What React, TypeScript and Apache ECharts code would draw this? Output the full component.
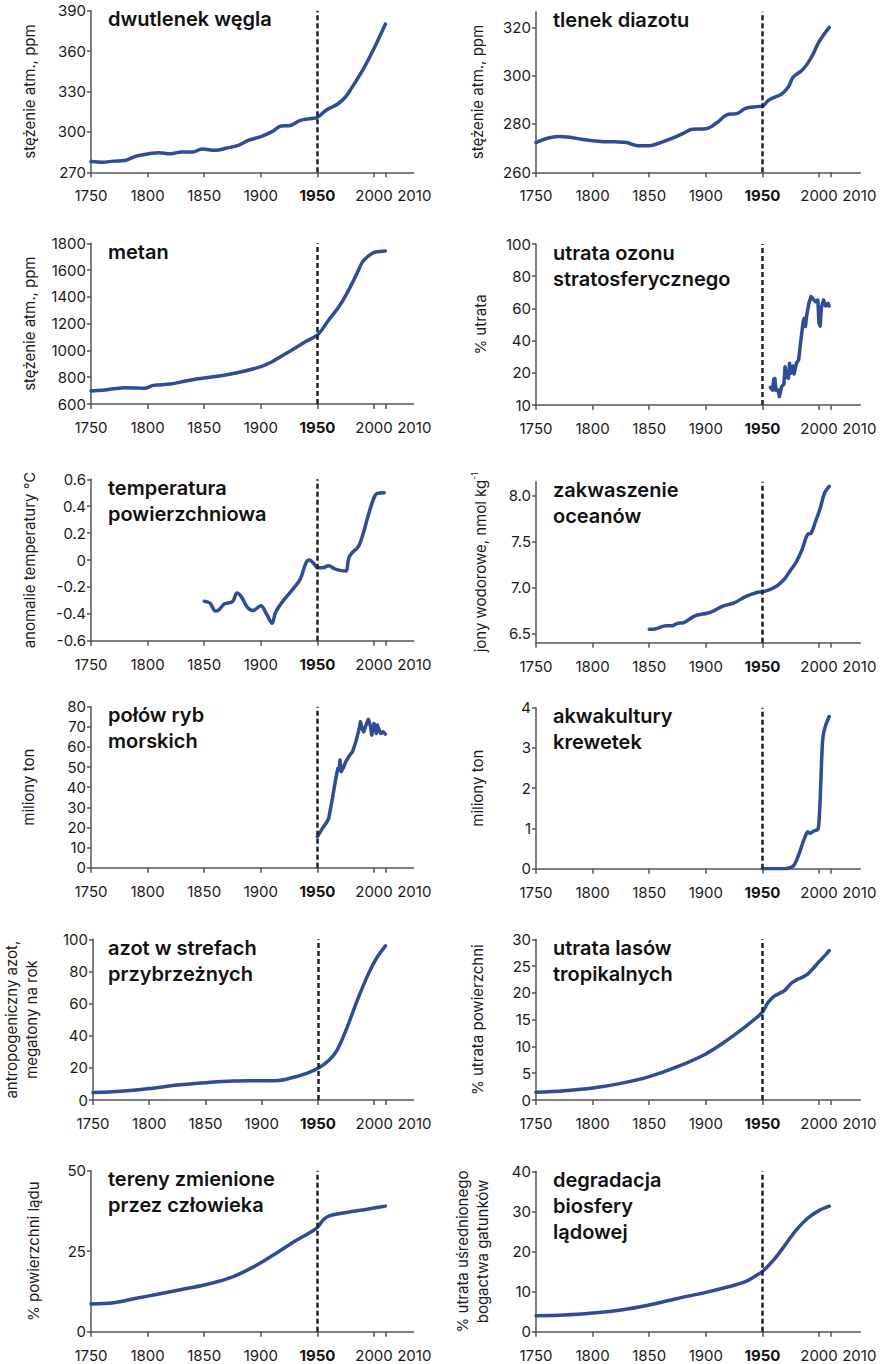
import React, { useEffect, useRef } from "react";
import * as echarts from "echarts";

// ---------- data ----------
const tickYears = [1750, 1800, 1850, 1900, 1950, 2000, 2010];
const labelYears = [1750, 1800, 1850, 1900, 1950, 2000];
const lastLabelYear = [2010];

const co2Years = [1750, 1760, 1770, 1780, 1790, 1800, 1810, 1820, 1830, 1840, 1848, 1860, 1870, 1880, 1890, 1900, 1910, 1918, 1925, 1935, 1945, 1950, 1958, 1968, 1975, 1980, 1990, 2000, 2010];
const co2Values = [278, 277.5, 278.3, 278.8, 282, 283.6, 284.6, 283.8, 285, 285, 287.3, 286.3, 288, 290, 294, 296.5, 300.2, 304.4, 304.6, 308.6, 310, 310.8, 316.3, 320.7, 326.1, 332.3, 345.9, 362, 380];
const co2Ticks = [270, 300, 330, 360, 390];

const n2oYears = [1750, 1760, 1770, 1780, 1790, 1800, 1810, 1820, 1830, 1840, 1850, 1860, 1870, 1880, 1888, 1900, 1910, 1918, 1928, 1935, 1945, 1950, 1955, 1960, 1967, 1973, 1977, 1985, 1990, 1995, 2000, 2009];
const n2oValues = [272.3, 274.1, 274.8, 274.5, 273.7, 273.1, 272.7, 272.6, 272.3, 271, 271, 272.3, 274, 276.1, 277.8, 278, 280.6, 283.7, 284.4, 286.5, 287.2, 287.4, 289.7, 290.9, 292.4, 295.4, 299.3, 302.3, 305.1, 309.2, 314, 320];
const n2oTicks = [260, 280, 300, 320];

const ch4Years = [1750, 1760, 1770, 1780, 1790, 1797, 1805, 1820, 1835, 1850, 1870, 1885, 1900, 1910, 1920, 1930, 1940, 1950, 1960, 1970, 1980, 1985, 1990, 1995, 2000, 2005, 2010];
const ch4Values = [697, 702, 714, 722, 720, 717, 739, 749, 774, 794, 819, 844, 879, 916, 966, 1016, 1068, 1115, 1227, 1339, 1489, 1576, 1663, 1705, 1733, 1738, 1743];
const ch4Ticks = [600, 800, 1000, 1200, 1400, 1600, 1800];

const ozoneYears = [1957, 1959, 1960, 1961, 1962, 1964, 1965, 1967, 1969, 1970, 1971, 1973, 1974, 1975, 1977, 1978, 1980, 1982, 1984, 1986, 1987, 1988, 1989, 1991, 1993, 1995, 1997, 1999, 2000, 2001, 2002, 2004, 2006, 2008, 2009];
const ozoneValues = [11, 9.3, 16, 16.6, 9, 9.3, 5.2, 11.4, 13, 23.8, 17.6, 16.6, 25.9, 19.7, 24.2, 19.3, 25.9, 28, 40.4, 51.8, 53.8, 48.7, 54.9, 63.1, 67.3, 65.6, 64.2, 65.2, 50.7, 49, 60, 65.2, 61.5, 63.1, 61.5];
const ozoneTicks = [0, 20, 40, 60, 80, 100];
const ozoneTickLabels = ["10", "20", "40", "60", "80", "100"];

const tempYears = [1850, 1855, 1860, 1863, 1868, 1875, 1879, 1883, 1888, 1893, 1900, 1905, 1910, 1913, 1920, 1930, 1935, 1940, 1943, 1947, 1950, 1955, 1960, 1965, 1970, 1975, 1978, 1982, 1986, 1990, 1995, 2000, 2003, 2009];
const tempValues = [-0.306, -0.32, -0.38, -0.37, -0.326, -0.31, -0.246, -0.276, -0.35, -0.376, -0.34, -0.4, -0.47, -0.39, -0.3, -0.2, -0.14, -0.02, 0.0, -0.03, -0.057, -0.057, -0.042, -0.065, -0.077, -0.082, 0.022, 0.065, 0.097, 0.184, 0.334, 0.463, 0.495, 0.5];
const tempTicks = [-0.6, -0.4, -0.2, 0, 0.2, 0.4, 0.6];

const oceanYears = [1850, 1855, 1865, 1870, 1875, 1880, 1890, 1900, 1905, 1915, 1925, 1935, 1945, 1950, 1957, 1962, 1966, 1970, 1975, 1980, 1985, 1990, 1993, 1997, 2001, 2005, 2009];
const oceanValues = [6.547, 6.55, 6.583, 6.583, 6.61, 6.616, 6.69, 6.717, 6.735, 6.797, 6.833, 6.9, 6.946, 6.953, 6.98, 7.01, 7.05, 7.1, 7.19, 7.28, 7.41, 7.58, 7.59, 7.72, 7.86, 8.03, 8.1];
const oceanTicks = [6.5, 7.0, 7.5, 8.0];

const fishYears = [1950, 1955, 1958, 1960, 1963, 1966, 1968, 1969, 1970, 1971, 1973, 1975, 1978, 1981, 1984, 1987, 1988, 1990, 1991, 1993, 1995, 1997, 1998, 2000, 2001, 2002, 2003, 2004, 2006, 2008, 2010];
const fishValues = [15.4, 20, 22.4, 24.5, 33.6, 43.5, 49.3, 48.5, 53.5, 47.7, 49.7, 52.6, 55.5, 57.6, 62.6, 69.2, 72.5, 68.4, 67.5, 70.9, 73.7, 70, 65.9, 71.7, 70, 66.7, 70.9, 69.2, 66.7, 67.5, 66.4];
const fishTicks = [0, 10, 20, 30, 40, 50, 60, 70, 80];

const shrimpYears = [1950, 1960, 1970, 1975, 1978, 1980, 1983, 1986, 1989, 1990, 1992, 1995, 1999, 2000, 2001, 2002, 2003, 2004, 2006, 2009];
const shrimpValues = [0, 0, 0, 0.03, 0.09, 0.2, 0.42, 0.67, 0.88, 0.92, 0.88, 0.93, 0.98, 1.17, 1.7, 2.45, 3.11, 3.36, 3.57, 3.78];
const shrimpTicks = [0, 1, 2, 3, 4];

const nitroYears = [1750, 1775, 1800, 1825, 1850, 1875, 1900, 1915, 1925, 1940, 1950, 1960, 1967, 1975, 1985, 1995, 2002, 2010];
const nitroValues = [4.6, 5.4, 7.1, 9.3, 10.8, 11.8, 12, 12.2, 13.5, 16.6, 19.7, 24.9, 31.1, 43.6, 62.2, 78.8, 88.2, 95.9];
const nitroTicks = [0, 20, 40, 60, 80, 100];

const forestYears = [1750, 1775, 1800, 1825, 1850, 1875, 1900, 1915, 1925, 1935, 1945, 1950, 1955, 1960, 1965, 1970, 1975, 1980, 1985, 1990, 1995, 2000, 2005, 2009];
const forestValues = [1.43, 1.74, 2.24, 3.1, 4.36, 6.22, 8.6, 10.6, 12.1, 13.7, 15.4, 16.4, 18.2, 19.3, 19.9, 20.5, 21.7, 22.4, 22.9, 23.5, 24.6, 25.8, 26.9, 27.9];
const forestTicks = [0, 5, 10, 15, 20, 25, 30];

const landYears = [1750, 1770, 1790, 1810, 1830, 1850, 1870, 1885, 1900, 1915, 1930, 1945, 1950, 1955, 1960, 1970, 1980, 1990, 2000, 2010];
const landValues = [8.6, 9.0, 10.4, 11.7, 13.1, 14.5, 16.4, 18.6, 21.4, 24.7, 28.1, 31.1, 32.4, 34.7, 35.9, 36.7, 37.3, 37.8, 38.4, 39.0];
const landTicks = [0, 25, 50];

const bioYears = [1750, 1775, 1800, 1825, 1850, 1875, 1900, 1920, 1935, 1945, 1950, 1960, 1970, 1980, 1990, 2000, 2009];
const bioValues = [4.0, 4.16, 4.65, 5.4, 6.65, 8.3, 9.8, 11.2, 12.5, 14.1, 15.0, 17.9, 21.6, 25.4, 28.3, 30.2, 31.3];
const bioTicks = [0, 10, 20, 30, 40];

// ---------- panels ----------
type Panel = {
  title: string;
  yName: string;
  years: number[];
  values: number[];
  ticks: number[];
  min: number;
  max: number;
  fmt?: (v: number) => string;
  col: number;
  top: number;
  bottom: number;
  nameGap: number;
  smooth: number | boolean;
};

const panels: Panel[] = [
  { title: "dwutlenek węgla", yName: "stężenie atm., ppm", years: co2Years, values: co2Values, ticks: co2Ticks, min: 270, max: 390, col: 0, top: 10.7, bottom: 172.3, nameGap: 52, smooth: 0.35 },
  { title: "tlenek diazotu", yName: "stężenie atm., ppm", years: n2oYears, values: n2oValues, ticks: n2oTicks, min: 260, max: 326.5, col: 1, top: 11.7, bottom: 172.3, nameGap: 49, smooth: 0.35 },
  { title: "metan", yName: "stężenie atm., ppm", years: ch4Years, values: ch4Values, ticks: ch4Ticks, min: 600, max: 1800, col: 0, top: 243.3, bottom: 404, nameGap: 52, smooth: 0.35 },
  { title: "utrata ozonu\nstratosferycznego", yName: "% utrata", years: ozoneYears, values: ozoneValues, ticks: ozoneTicks, min: 0, max: 100, fmt: (v) => ozoneTickLabels[ozoneTicks.indexOf(v)] ?? String(v), col: 1, top: 244, bottom: 405, nameGap: 46, smooth: false },
  { title: "temperatura\npowierzchniowa", yName: "anomalie temperatury °C", years: tempYears, values: tempValues, ticks: tempTicks, min: -0.6, max: 0.6, fmt: (v) => (v === 0 ? "0" : v.toFixed(1)), col: 0, top: 479.3, bottom: 640.7, nameGap: 52, smooth: 0.35 },
  { title: "zakwaszenie\noceanów", yName: "jony wodorowe, nmol kg{sup|-1}", years: oceanYears, values: oceanValues, ticks: oceanTicks, min: 6.4, max: 8.15, fmt: (v) => v.toFixed(1), col: 1, top: 481.7, bottom: 642.7, nameGap: 46, smooth: 0.35 },
  { title: "połów ryb\nmorskich", yName: "miliony ton", years: fishYears, values: fishValues, ticks: fishTicks, min: 0, max: 80, col: 0, top: 706.7, bottom: 867.7, nameGap: 53, smooth: false },
  { title: "akwakultury\nkrewetek", yName: "miliony ton", years: shrimpYears, values: shrimpValues, ticks: shrimpTicks, min: 0, max: 4, col: 1, top: 707.7, bottom: 868.7, nameGap: 49, smooth: 0.25 },
  { title: "azot w strefach\nprzybrzeżnych", yName: "antropogeniczny azot,\nmegatony na rok", years: nitroYears, values: nitroValues, ticks: nitroTicks, min: 0, max: 100, col: 0, top: 939.3, bottom: 1100, nameGap: 52, smooth: 0.35 },
  { title: "utrata lasów\ntropikalnych", yName: "% utrata powierzchni", years: forestYears, values: forestValues, ticks: forestTicks, min: 0, max: 30, col: 1, top: 939.3, bottom: 1100, nameGap: 49, smooth: 0.35 },
  { title: "tereny zmienione\nprzez człowieka", yName: "% powierzchni lądu", years: landYears, values: landValues, ticks: landTicks, min: 0, max: 50, col: 0, top: 1170.7, bottom: 1331.7, nameGap: 48, smooth: 0.35 },
  { title: "degradacja\nbiosfery\nlądowej", yName: "% utrata uśrednionego\nbogactwa gatunków", years: bioYears, values: bioValues, ticks: bioTicks, min: 0, max: 40, col: 1, top: 1171.3, bottom: 1331.7, nameGap: 44, smooth: 0.35 },
];

const FONT = "Inter, 'Liberation Sans', Arial, sans-serif";
const BLUE = "#2e4b9c";
const AXIS = "#555";
const TEXT = "#1a1a1a";

const colLeft = [91, 536];
const colMax = [2035, 2036.5];
const PX_PER_YEAR = 1.132;

function buildOption() {
  const grid = panels.map((p) => ({
    left: colLeft[p.col],
    top: p.top,
    height: p.bottom - p.top,
    width: (colMax[p.col] - 1750) * PX_PER_YEAR,
  }));

  const labelBase = { margin: 16, fontSize: 15, fontFamily: FONT, color: TEXT };

  // main x axes: line, ticks and labels 1750..2000
  const xMain = panels.map((p, i) => ({
    type: "value",
    gridIndex: i,
    position: "bottom",
    min: 1750,
    max: colMax[p.col],
    splitLine: { show: false },
    axisLine: { show: true, onZero: false, lineStyle: { color: AXIS, width: 1.5 } },
    axisTick: { show: true, length: 5, customValues: tickYears, lineStyle: { color: AXIS, width: 1.5 } },
    axisLabel: {
      ...labelBase,
      customValues: labelYears,
      formatter: (v: number) => (v === 1950 ? "{b|1950}" : String(v)),
      rich: { b: { fontWeight: "bold", fontSize: 15, fontFamily: FONT, color: "#111" } },
    },
  }));

  // companion x axes carrying only the "2010" label, set off to the right of its tick
  const xLast = panels.map((p, i) => ({
    type: "value",
    gridIndex: i,
    position: "bottom",
    offset: 0,
    min: 1750,
    max: colMax[p.col],
    splitLine: { show: false },
    axisLine: { show: false, onZero: false },
    axisTick: { show: false },
    axisLabel: {
      ...labelBase,
      customValues: lastLabelYear,
      formatter: () => "{r|2010}",
      rich: { r: { padding: [0, 0, 0, 58], fontSize: 15, fontFamily: FONT, color: TEXT } },
    },
  }));

  const yAxis = panels.map((p, i) => ({
    type: "value",
    gridIndex: i,
    min: p.min,
    max: p.max,
    name: p.yName,
    nameLocation: "middle",
    nameGap: p.nameGap,
    nameTextStyle: {
      fontSize: 15,
      fontFamily: FONT,
      color: TEXT,
      lineHeight: 20,
      rich: { sup: { fontSize: 9, fontFamily: FONT, color: TEXT, verticalAlign: "top", lineHeight: 20 } },
    },
    splitLine: { show: false },
    axisLine: { show: true, onZero: false, lineStyle: { color: AXIS, width: 1.5 } },
    axisTick: { show: true, length: 4, customValues: p.ticks, lineStyle: { color: AXIS, width: 1.5 } },
    axisLabel: {
      customValues: p.ticks,
      margin: 5,
      fontSize: 15,
      fontFamily: FONT,
      color: TEXT,
      formatter: (v: number) => (p.fmt ? p.fmt(v) : String(v)),
    },
  }));

  const series = panels.map((p, i) => ({
    type: "line",
    xAxisIndex: i,
    yAxisIndex: i,
    data: p.years.map((y, k) => [y, p.values[k]]),
    showSymbol: false,
    symbol: "none",
    smooth: p.smooth,
    lineStyle: { color: BLUE, width: 3.5, cap: "round", join: "round" },
    markLine: {
      silent: true,
      symbol: ["none", "none"],
      label: { show: false },
      lineStyle: { type: [5, 3], color: "#222", width: 2.5 },
      data: [{ xAxis: 1950 }],
    },
  }));

  const title = panels.map((p) => ({
    text: p.title,
    left: colLeft[p.col] + 17,
    top: p.top - 4.5,
    padding: 0,
    textStyle: { fontSize: 20, lineHeight: 26, fontWeight: 600, fontFamily: FONT, color: "#111" },
  }));

  return { animation: false, title, grid, xAxis: [...xMain, ...xLast], yAxis, series };
}

export default function App() {
  const ref = useRef<HTMLDivElement>(null);
  useEffect(() => {
    if (!ref.current) return;
    const chart = echarts.init(ref.current, undefined, { renderer: "svg" });
    chart.setOption(buildOption() as any);
    return () => chart.dispose();
  }, []);
  return (
    <div
      ref={ref}
      style={{ position: "absolute", left: 0, top: 0, width: 885, height: 1364, background: "#fff" }}
    />
  );
}
